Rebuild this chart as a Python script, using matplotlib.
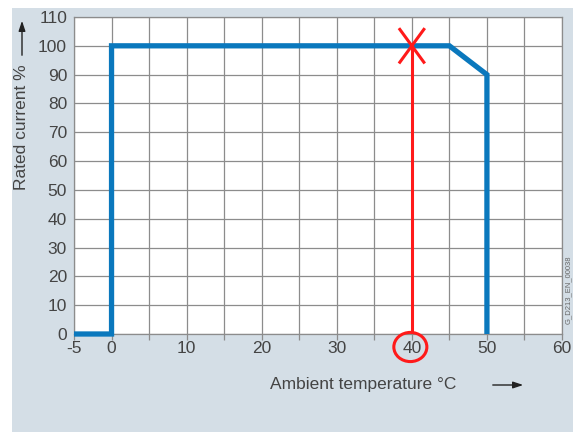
import matplotlib.pyplot as plt
from matplotlib.patches import Rectangle, Ellipse

plt.rcParams["font.family"] = ["Liberation Sans", "DejaVu Sans"]

# derating curve (ambient temperature °C -> rated current %)
temp = [-5, 0, 0, 45, 50, 50]
current = [0, 0, 100, 100, 90, 0]

# marked operating point
mark_temp = 40
mark_current = 100

x_ticks = [-5, 0, 10, 20, 30, 40, 50, 60]
y_ticks = [0, 10, 20, 30, 40, 50, 60, 70, 80, 90, 100, 110]

blue = "#0a78bd"
red = "#ff1a1a"
txt = "#444444"
grid_c = "#8c8c8c"

fig = plt.figure(figsize=(5.73, 4.32), dpi=100, facecolor="white")
# light blue-grey panel behind the chart
fig.patches.append(Rectangle((12 / 573, 0), 1, 1 - 8 / 432, transform=fig.transFigure,
                             facecolor="#d4dee6", edgecolor="none", zorder=-10))

ax = fig.add_axes([74 / 573, 1 - 334 / 432, (562 - 74) / 573, (334 - 17) / 432])
ax.set_facecolor("white")
ax.set_xlim(-5, 60)
ax.set_ylim(0, 110)

# grid every 5 °C / 10 %
ax.set_xticks(list(range(-5, 61, 5)))
ax.set_xticklabels([str(v) if v in x_ticks else "" for v in range(-5, 61, 5)])
ax.set_yticks(y_ticks)
ax.set_yticklabels([str(v) for v in y_ticks])
ax.grid(True, color=grid_c, linewidth=0.9)
ax.set_axisbelow(True)
ax.tick_params(axis="x", length=4, width=0.9, color=grid_c, pad=1, labelsize=12.5, labelcolor=txt)
ax.tick_params(axis="y", length=0, pad=5, labelsize=12.5, labelcolor=txt)
for s in ax.spines.values():
    s.set_color(grid_c)
    s.set_linewidth(0.9)

ax.plot(temp, current, color=blue, linewidth=3.8, solid_joinstyle="miter",
        solid_capstyle="butt", clip_on=False, zorder=3)

# red marker line, cross and circled tick label
ax.plot([mark_temp, mark_temp], [0, mark_current], color=red, linewidth=2.2, zorder=4)
dx, dy = 1.6, 5.7
ax.plot([mark_temp - dx, mark_temp + dx], [mark_current - dy, mark_current + dy],
        color=red, linewidth=2.2, zorder=5, clip_on=False)
ax.plot([mark_temp - dx, mark_temp + dx], [mark_current + dy, mark_current - dy],
        color=red, linewidth=2.2, zorder=5, clip_on=False)
ax.add_patch(Ellipse((mark_temp - 0.2, -0.041), 4.4, 0.092,
                     transform=ax.get_xaxis_transform(), facecolor="none",
                     edgecolor=red, linewidth=2.2, clip_on=False, zorder=5))

# axis titles with arrows
fig.text(363 / 573, 1 - 385 / 432, "Ambient temperature °C", ha="center", va="center",
         fontsize=12.5, color=txt)
fig.text(22 / 573, 1 - 127 / 432, "Rated current %", ha="center", va="center",
         rotation=90, fontsize=12.5, color=txt)
arrow = dict(arrowstyle="-|>,head_length=0.6,head_width=0.2", color="#222222", linewidth=1)
fig.add_artist(plt.Annotation("", xy=(526 / 573, 1 - 385 / 432), xytext=(490 / 573, 1 - 385 / 432),
                              xycoords="figure fraction", arrowprops=arrow))
fig.add_artist(plt.Annotation("", xy=(22 / 573, 1 - 18 / 432), xytext=(22 / 573, 1 - 58 / 432),
                              xycoords="figure fraction", arrowprops=arrow))

fig.text(568 / 573, 1 - 290 / 432, "G_D213_EN_00038", ha="center", va="center",
         rotation=90, fontsize=5.5, color="#666666")

fig.savefig("out.png", dpi=100)
